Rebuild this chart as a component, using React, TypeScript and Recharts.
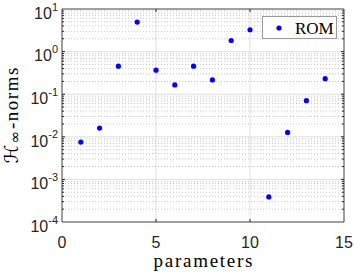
import React from "react";
import {
  ScatterChart,
  Scatter,
  XAxis,
  YAxis,
  CartesianGrid,
  ReferenceLine,
  Legend,
} from "recharts";

const params = [1, 2, 3, 4, 5, 6, 7, 8, 9, 10, 11, 12, 13, 14];
const romNorms = [
  0.0075, 0.016, 0.455, 4.94, 0.366, 0.165, 0.455, 0.216, 1.82, 3.26, 0.000387,
  0.0127, 0.0705, 0.232,
];
const xTicks = [0, 5, 10, 15];
const yTicks = [1e-4, 1e-3, 1e-2, 1e-1, 1, 10];
const seriesName = "ROM";

const AXIS = "#262626";

// minor log ticks 2..9 in every decade
const minorTicks: number[] = [];
yTicks.slice(0, -1).forEach((d) => {
  for (let k = 2; k <= 9; k++) minorTicks.push(Number((d * k).toPrecision(3)));
});

const YTick = (props: any) => {
  const { x, y, payload } = props;
  const e = Math.round(Math.log10(payload.value));
  return (
    <text x={x} y={y} textAnchor="end" fill={AXIS} fontFamily="Liberation Sans, Arial, sans-serif">
      <tspan fontSize={16} dy={9.7}>10</tspan>
      <tspan fontSize={11} dy={-8.2}>{e}</tspan>
    </text>
  );
};

const XLabel = (props: any) => {
  const { x, y, width } = props.viewBox;
  return (
    <text
      x={x + width / 2}
      y={y + 44.5}
      textAnchor="middle"
      fill="#000"
      fontFamily="Liberation Serif, serif"
      fontSize={19}
      textLength={99}
      lengthAdjust="spacing"
    >
      parameters
    </text>
  );
};

const YLabel = (props: any) => {
  const { y, height } = props.viewBox;
  const cy = y + height / 2;
  return (
    <text
      transform={`translate(17.5, ${cy}) rotate(-90)`}
      textAnchor="middle"
      fill="#000"
      fontFamily="Liberation Serif, serif"
      fontSize={19}
      textLength={96}
      lengthAdjust="spacing"
    >
      <tspan fontFamily="DejaVu Serif, DejaVu Sans, serif" fontSize={19}>ℋ</tspan>
      <tspan fontFamily="DejaVu Sans, serif" fontSize={15} dy={2}>∞</tspan>
      <tspan dy={-2}>-norms</tspan>
    </text>
  );
};

const LegendBox = () => (
  <svg width={75} height={23}>
    <rect x={0.5} y={0.5} width={74} height={22} fill="#fff" stroke="#9a9a9a" />
    <circle cx={17} cy={12} r={2.6} fill="#0000ff" />
    <text x={33} y={17.5} fontFamily="Liberation Serif, serif" fontSize={17} fill="#000">
      {seriesName}
    </text>
  </svg>
);

export default function App() {
  const data = params.map((p, i) => ({ x: p, y: romNorms[i] }));
  const tx = 3 / 18.77; // ~3px in x units
  const ty = Math.pow(10, 3 / 42.5); // ~3px in log units

  return (
    <div style={{ position: "absolute", left: 0, top: 0 }}>
      <ScatterChart width={354} height={272} margin={{ top: 9, right: 10, bottom: 0, left: 0 }}>
        <CartesianGrid stroke="#dedede" />
        {minorTicks.map((v) => (
          <ReferenceLine key={`mg-${v}`} y={v} stroke="#c9c9c9" strokeDasharray="1 2" />
        ))}
        <XAxis
          type="number"
          dataKey="x"
          domain={[0, 15]}
          ticks={xTicks}
          height={50}
          tickSize={0}
          tickMargin={15}
          axisLine={false}
          tick={{ fill: AXIS, fontSize: 16, fontFamily: "Liberation Sans, Arial, sans-serif" }}
          label={{ content: XLabel }}
        />
        <YAxis
          type="number"
          dataKey="y"
          scale="log"
          domain={[1e-4, 10]}
          allowDataOverflow
          ticks={yTicks}
          width={62}
          tickSize={0}
          tickMargin={4}
          axisLine={false}
          tick={YTick}
          label={{ content: YLabel }}
        />
        {/* inward ticks */}
        {xTicks.slice(1, -1).map((v) => (
          <ReferenceLine key={`xb-${v}`} segment={[{ x: v, y: 1e-4 }, { x: v, y: 1e-4 * ty }]} stroke={AXIS} />
        ))}
        {xTicks.slice(1, -1).map((v) => (
          <ReferenceLine key={`xt-${v}`} segment={[{ x: v, y: 10 }, { x: v, y: 10 / ty }]} stroke={AXIS} />
        ))}
        {yTicks.slice(1, -1).map((v) => (
          <ReferenceLine key={`yl-${v}`} segment={[{ x: 0, y: v }, { x: tx, y: v }]} stroke={AXIS} />
        ))}
        {yTicks.slice(1, -1).map((v) => (
          <ReferenceLine key={`yr-${v}`} segment={[{ x: 15, y: v }, { x: 15 - tx, y: v }]} stroke={AXIS} />
        ))}
        {minorTicks.map((v) => (
          <ReferenceLine key={`ml-${v}`} segment={[{ x: 0, y: v }, { x: tx * 0.67, y: v }]} stroke={AXIS} />
        ))}
        {minorTicks.map((v) => (
          <ReferenceLine key={`mr-${v}`} segment={[{ x: 15, y: v }, { x: 15 - tx * 0.67, y: v }]} stroke={AXIS} />
        ))}
        {/* box */}
        <ReferenceLine x={0} stroke={AXIS} strokeWidth={0.8} />
        <ReferenceLine x={15} stroke={AXIS} strokeWidth={0.8} />
        <ReferenceLine y={1e-4} stroke={AXIS} strokeWidth={0.8} />
        <ReferenceLine y={10} stroke={AXIS} strokeWidth={0.8} />
        <Scatter
          name={seriesName}
          data={data}
          fill="#0000ff"
          isAnimationActive={false}
          shape={(p: any) => <circle cx={p.cx} cy={p.cy} r={2.6} fill="#0000ff" />}
        />
        <Legend
          layout="vertical"
          align="center"
          verticalAlign="middle"
          wrapperStyle={{ top: 16, left: 262, width: 75, height: 23 }}
          content={LegendBox}
        />
      </ScatterChart>
    </div>
  );
}
